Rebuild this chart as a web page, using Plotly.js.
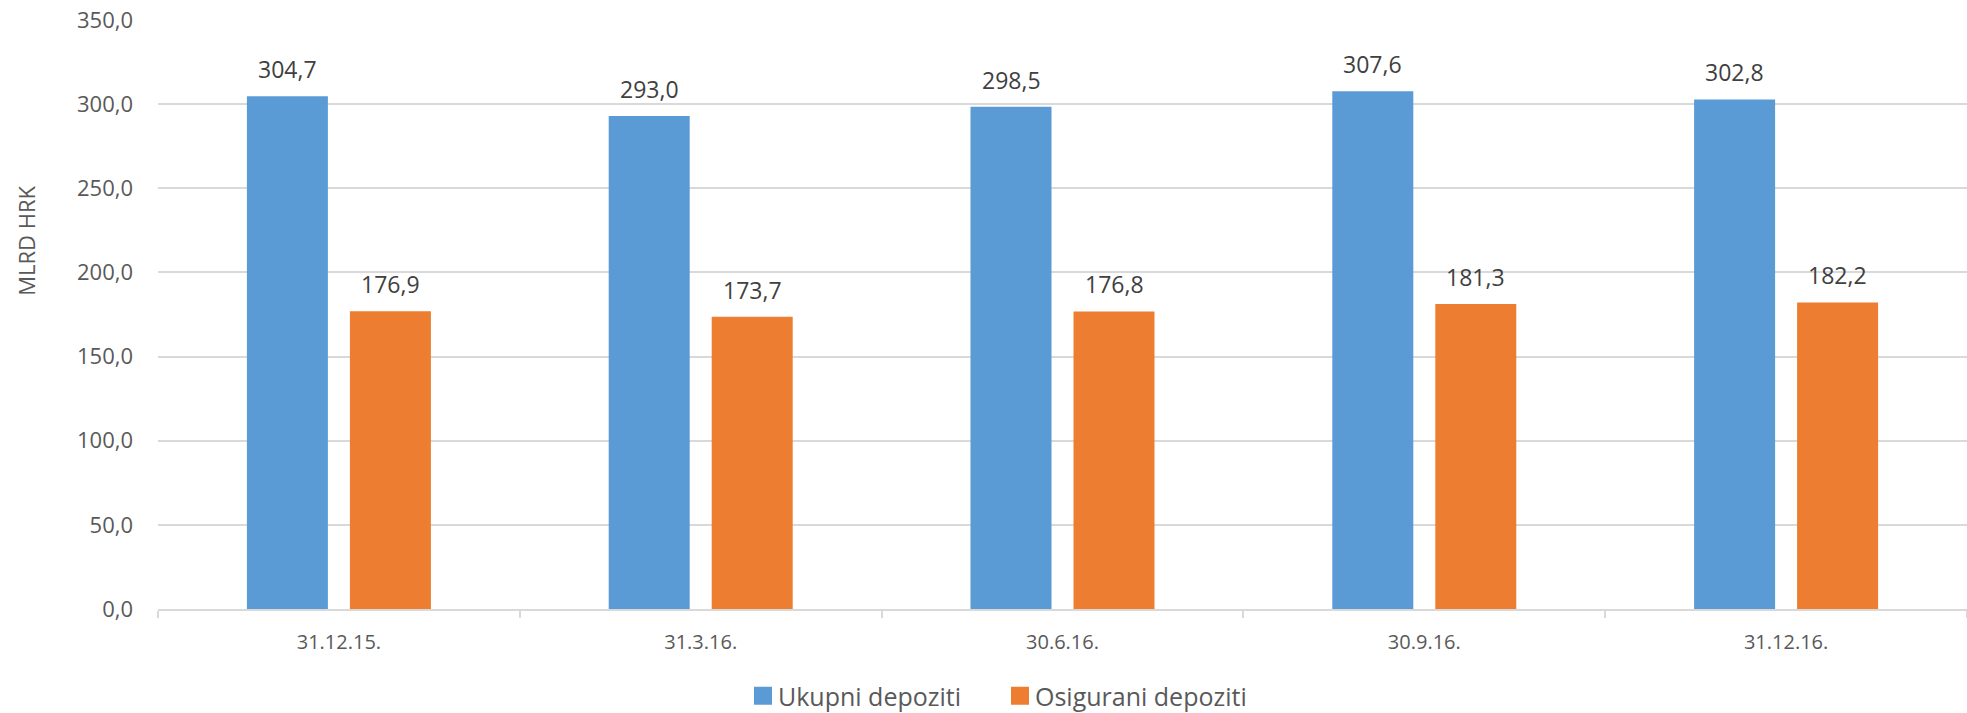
<!DOCTYPE html>
<html>
<head>
<meta charset="utf-8">
<script src="https://cdn.plot.ly/plotly-3.0.1.min.js"></script>
<style>html,body{margin:0;padding:0;background:#fff;}#chart{width:1967px;height:713px;}</style>
</head>
<body>
<div id="chart"></div>
<script>
const categories = ['31.12.15.', '31.3.16.', '30.6.16.', '30.9.16.', '31.12.16.'];
const ukupni = [304.7, 293.0, 298.5, 307.6, 302.8];
const osigurani = [176.9, 173.7, 176.8, 181.3, 182.2];
const seriesNames = ['Ukupni depoziti', 'Osigurani depoziti'];
const yTitle = 'MLRD HRK';

const FONT = 'Open Sans, sans-serif';
const colors = ['#5B9BD5', '#ED7D31'];

const traces = [
  {type: 'bar', name: seriesNames[0], x: categories, y: ukupni, marker: {color: colors[0]}, hoverinfo: 'skip'},
  {type: 'bar', name: seriesNames[1], x: categories, y: osigurani, marker: {color: colors[1]}, hoverinfo: 'skip'}
];

const annotations = [];
[ukupni, osigurani].forEach((vals, si) => {
  vals.forEach((v, i) => {
    annotations.push({
      x: categories[i], y: v, xref: 'x', yref: 'y',
      text: v.toFixed(1).replace('.', ','),
      showarrow: false, xanchor: 'center', yanchor: 'middle',
      xshift: si === 0 ? -51.5 : 51.5, yshift: 27,
      font: {family: FONT, size: 23, color: '#404040'}
    });
  });
});
annotations.push({
  text: yTitle, xref: 'paper', yref: 'paper', x: -0.073, y: 0.625,
  xanchor: 'center', yanchor: 'middle', textangle: -90, showarrow: false,
  font: {family: FONT, size: 22, color: '#595959'}
});

const layout = {
  width: 1967, height: 713,
  margin: {l: 158, r: 0, t: 20, b: 104},
  paper_bgcolor: '#ffffff', plot_bgcolor: '#ffffff',
  separators: ',.',
  barmode: 'group', bargap: 0.4306, bargroupgap: 0.2136,
  font: {family: FONT, color: '#595959'},
  showlegend: true,
  legend: {orientation: 'h', xref: 'container', yref: 'container',
           x: 738 / 1967, xanchor: 'left', y: 1 - 696 / 713, yanchor: 'middle',
           font: {family: FONT, size: 25, color: '#595959'}, itemwidth: 30, tracegroupgap: 0,
           entrywidth: 212},
  xaxis: {type: 'category', showgrid: false, showline: true, linecolor: '#d9d9d9', linewidth: 2,
          ticks: 'outside', tickson: 'boundaries', ticklen: 7, tickwidth: 2, tickcolor: '#d9d9d9',
          ticklabelstandoff: 14,
          tickfont: {family: FONT, size: 20, color: '#595959'}, fixedrange: true},
  yaxis: {range: [0, 350], dtick: 50, tick0: 0, tickformat: '.1f', showgrid: true,
          gridcolor: '#d9d9d9', gridwidth: 2, zeroline: false, showline: false, ticks: '',
          ticklabelstandoff: 24,
          tickfont: {family: FONT, size: 22, color: '#595959'}, fixedrange: true},
  annotations: annotations
};

Plotly.newPlot('chart', traces, layout, {displayModeBar: false, staticPlot: true}).then(gd => {
  gd.querySelectorAll('.legend .legendpoints path').forEach(p => {
    p.setAttribute('d', 'M14,9H-4V-9H14Z');
    p.style.strokeWidth = '0';
  });
});
</script>
</body>
</html>
